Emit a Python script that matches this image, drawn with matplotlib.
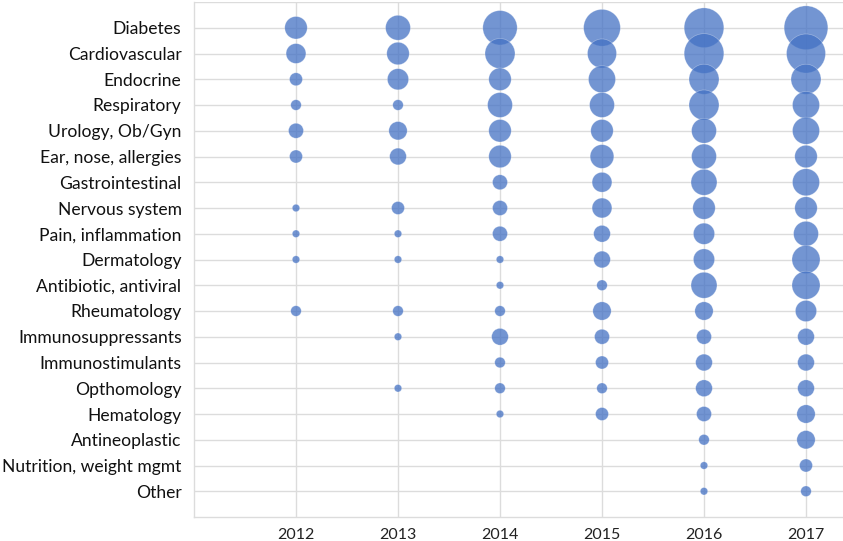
import matplotlib
matplotlib.use("Agg")
import matplotlib.pyplot as plt
import numpy as np

categories = [
    "Diabetes", "Cardiovascular", "Endocrine", "Respiratory", "Urology, Ob/Gyn",
    "Ear, nose, allergies", "Gastrointestinal", "Nervous system", "Pain, inflammation",
    "Dermatology", "Antibiotic, antiviral", "Rheumatology", "Immunosuppressants",
    "Immunostimulants", "Opthomology", "Hematology", "Antineoplastic",
    "Nutrition, weight mgmt", "Other",
]
years = [2012, 2013, 2014, 2015, 2016, 2017]

# counts per category (same order as categories); 0 = no entry that year
counts_2012 = [9, 7, 3, 2, 4, 3, 0, 1, 1, 1, 0, 2, 0, 0, 0, 0, 0, 0, 0]
counts_2013 = [11, 9, 8, 2, 6, 5, 0, 3, 1, 1, 0, 2, 1, 0, 1, 0, 0, 0, 0]
counts_2014 = [21, 16, 9, 11, 9, 9, 4, 4, 4, 1, 1, 2, 5, 2, 2, 1, 0, 0, 0]
counts_2015 = [24, 15, 13, 11, 9, 10, 7, 7, 5, 5, 2, 6, 4, 3, 2, 3, 0, 0, 0]
counts_2016 = [28, 28, 16, 16, 11, 11, 12, 9, 8, 8, 12, 6, 4, 5, 5, 4, 2, 1, 1]
counts_2017 = [34, 27, 16, 13, 13, 9, 13, 9, 11, 14, 14, 8, 5, 5, 5, 6, 6, 3, 2]

counts_by_year = [counts_2012, counts_2013, counts_2014, counts_2015, counts_2016, counts_2017]

W, H, DPI = 843, 541, 100
fig = plt.figure(figsize=(W / DPI, H / DPI), dpi=DPI)
left_px, bottom_px, top_px = 194, 517, 2
ax = fig.add_axes([left_px / W, 1 - bottom_px / H, 1 - left_px / W, (bottom_px - top_px) / H])

font = ["Lato", "DejaVu Sans"]
grid_c = "#dcdcdc"
scale = 29.2  # marker area (pt^2) per unit count

for yr, vals in zip(years, counts_by_year):
    vals = np.asarray(vals, dtype=float)
    ypos = np.arange(1, len(categories) + 1)
    mask = vals > 0
    ax.scatter(np.full(mask.sum(), yr), ypos[mask], s=vals[mask] * scale,
               facecolor=(0.267, 0.447, 0.769, 0.75),
               edgecolors=(1, 1, 1, 0.35), linewidths=0.5, zorder=3)

ax.set_xlim(2011, 2011 + (W - left_px) / 102.0)
ax.set_ylim(20, 0)
ax.set_xticks(years)
ax.set_xticklabels([str(y) for y in years], fontsize=11.5, family=font, color="#222222")
ax.set_yticks(np.arange(1, len(categories) + 1))
ax.set_yticklabels(categories, fontsize=12.6, family=font, color="#111111")
ax.tick_params(axis="both", length=0)
ax.tick_params(axis="y", pad=9)
ax.tick_params(axis="x", pad=8)

for y in range(0, 20):
    ax.axhline(y, color=grid_c, lw=1, zorder=0)
for x in years:
    ax.axvline(x, color=grid_c, lw=1, zorder=0)

for side in ["top", "right"]:
    ax.spines[side].set_visible(False)
for side in ["left", "bottom"]:
    ax.spines[side].set_color(grid_c)
    ax.spines[side].set_linewidth(1)

fig.savefig("out.png", dpi=DPI)
